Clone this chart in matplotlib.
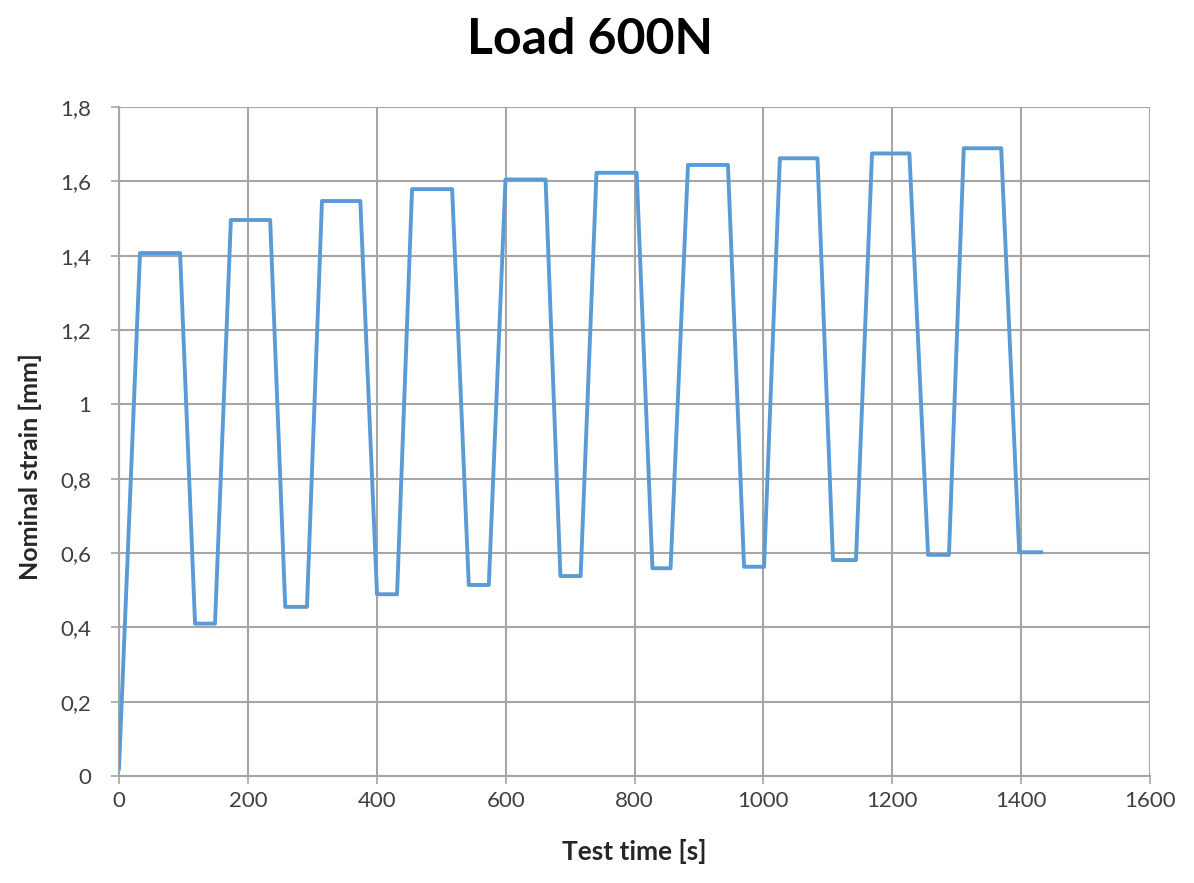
import matplotlib
matplotlib.use("Agg")
import matplotlib.pyplot as plt
from matplotlib.ticker import FuncFormatter

# Corner points of the strain curve (time [s], nominal strain [mm])
time_s = [0, 32.6, 94.8, 118, 149, 173.6, 234.6, 258, 291.7, 315, 374.5,
          400.4, 431.5, 454.8, 517, 542.8, 573.9, 599.8, 662, 685, 716.4,
          741, 803.4, 827.8, 856, 883, 945, 970, 1001, 1025.6, 1084,
          1108, 1143.7, 1168.6, 1226.6, 1255.6, 1288, 1311, 1369, 1397, 1431]
strain_mm = [0.02, 1.407, 1.407, 0.41, 0.41, 1.496, 1.496, 0.455, 0.455,
             1.547, 1.547, 0.489, 0.489, 1.579, 1.579, 0.514, 0.514,
             1.605, 1.605, 0.538, 0.538, 1.623, 1.623, 0.559, 0.559,
             1.644, 1.644, 0.563, 0.563, 1.662, 1.662, 0.581, 0.581,
             1.675, 1.675, 0.595, 0.595, 1.689, 1.689, 0.602, 0.602]

x_ticks = [0, 200, 400, 600, 800, 1000, 1200, 1400, 1600]
y_ticks = [0, 0.2, 0.4, 0.6, 0.8, 1.0, 1.2, 1.4, 1.6, 1.8]

title = "Load 600N"
x_label = "Test time [s]"
y_label = "Nominal strain [mm]"

plt.rcParams['font.family'] = ['Lato', 'DejaVu Sans']

fig = plt.figure(figsize=(11.94, 8.83), dpi=100)
ax = fig.add_axes([119/1194, 1-776/883, (1150-119)/1194, (776-107)/883])

grid_c = "#a6a6a6"
ax.plot(time_s, strain_mm, color="#5B9BD5", lw=2.8, solid_joinstyle="round", zorder=3)

ax.set_xlim(0, 1600)
ax.set_ylim(0, 1.8)
ax.set_xticks(x_ticks)
ax.set_yticks(y_ticks)

def fmt(v, pos):
    s = ("%.1f" % v).rstrip("0").rstrip(".") if v != 0 else "0"
    return s.replace(".", ",")

ax.yaxis.set_major_formatter(FuncFormatter(fmt))
ax.xaxis.set_major_formatter(FuncFormatter(lambda v, p: "%d" % v))

ax.grid(True, color=grid_c, lw=1.5, zorder=0)
for s in ["top", "right"]:
    ax.spines[s].set_visible(False)
for s in ["left", "bottom"]:
    ax.spines[s].set_color(grid_c)
    ax.spines[s].set_linewidth(1.5)
ax.tick_params(axis="both", colors=grid_c, length=6, width=1.2, direction="out",
               labelcolor="#404040", labelsize=16)
ax.tick_params(axis="x", pad=5)
ax.tick_params(axis="y", pad=14)

fig.text(590/1194, 1-40/883, title, fontsize=36, fontweight="bold", color="black",
         ha="center", va="center")
ax.set_xlabel(x_label, fontsize=19, fontweight="bold", color="#262626", labelpad=20)
ax.set_ylabel(y_label, fontsize=18, fontweight="bold", color="#262626")
ax.yaxis.set_label_coords(-0.075, 0.462)

fig.savefig("out.png", dpi=100)
